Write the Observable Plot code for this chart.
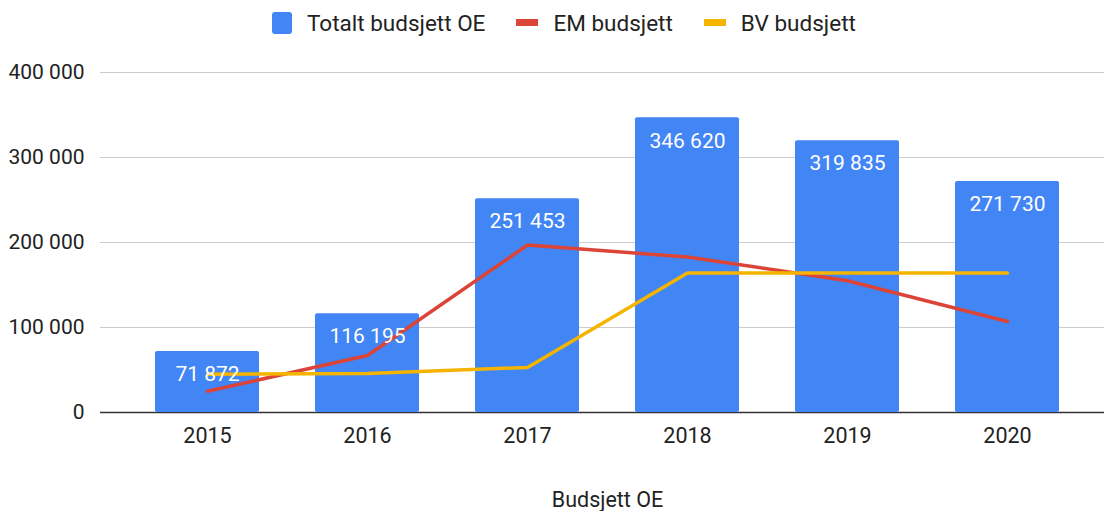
<!DOCTYPE html>
<html>
<head>
<meta charset="utf-8">
<script src="https://cdn.jsdelivr.net/npm/d3@7"></script>
<script src="https://cdn.jsdelivr.net/npm/@observablehq/plot@0.6"></script>
<style>
  body { margin: 0; background: #fff; font-family: Roboto, sans-serif; }
  #legend { height: 45px; display: flex; align-items: center; padding-left: 272px; font-size: 22.5px; color: #222; }
  .item { display: flex; align-items: center; margin-right: 31px; }
  .sw { margin-right: 15px; }
  .sq { width: 20px; height: 22px; border-radius: 3px; }
  .ln { width: 22px; height: 7px; }
  svg { display: block; }
</style>
</head>
<body>
<div id="legend"></div>
<div id="chart"></div>
<script>
const years = ["2015", "2016", "2017", "2018", "2019", "2020"];
const totalt = [71872, 116195, 251453, 346620, 319835, 271730];
const em = [25000, 67000, 197000, 183000, 155000, 107000];
const bv = [45000, 46000, 53000, 164000, 164000, 164000];
const yTicks = [0, 100000, 200000, 300000, 400000];
const seriesNames = ["Totalt budsjett OE", "EM budsjett", "BV budsjett"];
const colors = ["#4285F4", "#DB4437", "#F4B400"];
const xLabel = "Budsjett OE";

const data = years.map((y, i) => ({year: y, totalt: totalt[i], em: em[i], bv: bv[i]}));
const fmt = v => d3.format(",")(v).replace(/,/g, " ");

// legend
const legend = document.getElementById("legend");
seriesNames.forEach((n, i) => {
  const it = document.createElement("div");
  it.className = "item";
  const sw = document.createElement("div");
  sw.className = "sw " + (i === 0 ? "sq" : "ln");
  sw.style.background = colors[i];
  const t = document.createElement("span");
  t.textContent = n;
  it.appendChild(sw); it.appendChild(t);
  legend.appendChild(it);
});

const chart = Plot.plot({
  width: 1104,
  height: 466,
  marginLeft: 100,
  marginRight: 0,
  marginTop: 27,
  marginBottom: 99,
  style: {fontFamily: "Roboto, sans-serif", fontSize: "21px", color: "#222", background: "#fff"},
  x: {type: "band", domain: years, paddingInner: 0.35, paddingOuter: 0.3125, align: 0.55},
  y: {domain: [0, 400000]},
  marks: [
    Plot.ruleY(yTicks.filter(d => d > 0), {stroke: "#ccc", strokeWidth: 1}),
    Plot.ruleY([0], {stroke: "#333", strokeWidth: 1.5}),
    Plot.barY(data, {x: "year", y: "totalt", fill: colors[0], rx: 2}),
    Plot.lineY(data, {x: "year", y: "em", stroke: colors[1], strokeWidth: 3.5}),
    Plot.lineY(data, {x: "year", y: "bv", stroke: colors[2], strokeWidth: 3.5}),
    Plot.text(data, {x: "year", y: "totalt", text: d => fmt(d.totalt), dy: 23, fill: "white", fontSize: 21}),
    Plot.axisY({ticks: yTicks, tickSize: 0, tickPadding: 16, tickFormat: fmt, label: null, fontSize: 21}),
    Plot.axisX({tickSize: 0, tickPadding: 15, label: null, fontSize: 21.5}),
    Plot.text([xLabel], {frameAnchor: "bottom", lineAnchor: "middle", dy: 88, dx: 5, fill: "#222", fontSize: 21.5})
  ]
});
document.getElementById("chart").appendChild(chart);
</script>
</body>
</html>
